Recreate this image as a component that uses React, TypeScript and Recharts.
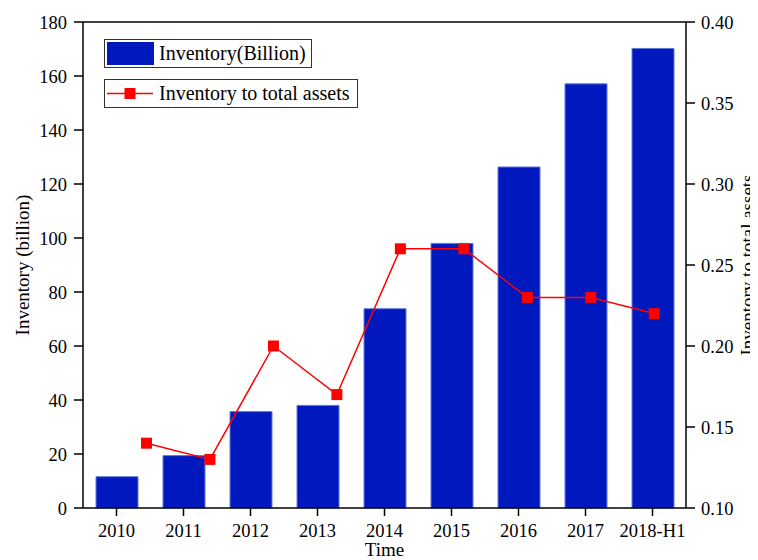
import React from 'react';
import { ComposedChart, Bar, Line, XAxis, YAxis, Legend, ReferenceLine } from 'recharts';

const years = ['2010', '2011', '2012', '2013', '2014', '2015', '2016', '2017', '2018-H1'];
const inventory = [11.6, 19.4, 35.7, 38.0, 73.8, 98.0, 126.3, 157.1, 170.2];
const ratio = [0.14, 0.13, 0.2, 0.17, 0.26, 0.26, 0.23, 0.23, 0.22];
const leftTicks = [0, 20, 40, 60, 80, 100, 120, 140, 160, 180];
const rightTicks = [0.1, 0.15, 0.2, 0.25, 0.3, 0.35, 0.4];

const data = years.map((year, i) => ({ year, idx: i, inventory: inventory[i], ratio: ratio[i] }));

const FONT = '"Liberation Serif", "Times New Roman", serif';
const BAR_COLOR = '#0019BF';
const LINE_COLOR = '#FF0000';

const SquareDot = (props: any) => {
  const { cx, cy, index } = props;
  if (cx == null || cy == null) return null;
  return <rect key={`dot-${index}`} x={cx - 5.5} y={cy - 5.5} width={11} height={11} fill={LINE_COLOR} />;
};

const LegendBoxes = () => (
  <div style={{ fontFamily: FONT, fontSize: 20, color: '#000', lineHeight: '27px' }}>
    <div
      style={{
        width: 206,
        height: 27,
        border: '1px solid #333',
        display: 'flex',
        alignItems: 'center',
        whiteSpace: 'nowrap',
      }}
    >
      <div style={{ width: 47, height: 23, marginLeft: 2, background: BAR_COLOR }} />
      <span style={{ marginLeft: 5 }}>Inventory(Billion)</span>
    </div>
    <div
      style={{
        width: 252,
        height: 27,
        marginTop: 11,
        border: '1px solid #333',
        display: 'flex',
        alignItems: 'center',
        whiteSpace: 'nowrap',
      }}
    >
      <svg width={50} height={27}>
        <line x1={2} y1={13.5} x2={48} y2={13.5} stroke={LINE_COLOR} strokeWidth={1.5} />
        <rect x={19.5} y={8} width={11} height={11} fill={LINE_COLOR} />
      </svg>
      <span style={{ marginLeft: 4 }}>Inventory to total assets</span>
    </div>
  </div>
);

const tickStyle = { fill: '#000', fontSize: 18.5, fontFamily: FONT };

const App: React.FC = () => {
  return (
    <div style={{ width: 750, height: 552 }}>
      <ComposedChart width={750} height={552} data={data} margin={{ top: 14, right: 0, bottom: 22, left: 0 }}>
        <XAxis
          xAxisId="cat"
          dataKey="year"
          height={30}
          tick={tickStyle}
          tickSize={8}
          tickMargin={8}
          axisLine={{ stroke: '#000', strokeWidth: 1.5 }}
          tickLine={{ stroke: '#000', strokeWidth: 1.5 }}
          label={{ value: 'Time', position: 'bottom', offset: 5, fill: '#000', fontSize: 19, fontFamily: FONT }}
        />
        <XAxis xAxisId="pt" dataKey="idx" type="number" domain={[-1, 8.5]} hide />
        <YAxis
          yAxisId="left"
          width={75}
          domain={[0, 180]}
          ticks={leftTicks}
          interval={0}
          tick={tickStyle}
          tickSize={9}
          tickMargin={7}
          axisLine={{ stroke: '#000', strokeWidth: 1.5 }}
          tickLine={{ stroke: '#000', strokeWidth: 1.5 }}
          label={{
            value: 'Inventory (billion)',
            angle: -90,
            position: 'center',
            dx: -23,
            fill: '#000',
            fontSize: 19,
            fontFamily: FONT,
          }}
        />
        <YAxis
          yAxisId="right"
          orientation="right"
          width={72}
          domain={[0.1, 0.4]}
          ticks={rightTicks}
          interval={0}
          tickFormatter={(v: number) => v.toFixed(2)}
          tick={tickStyle}
          tickSize={9}
          tickMargin={6}
          axisLine={{ stroke: '#000', strokeWidth: 1.5 }}
          tickLine={{ stroke: '#000', strokeWidth: 1.5 }}
          label={{
            value: 'Inventory to total assets',
            angle: -90,
            position: 'center',
            dx: 25,
            fill: '#000',
            fontSize: 19,
            fontFamily: FONT,
          }}
        />
        <ReferenceLine xAxisId="cat" yAxisId="left" y={180} stroke="#000" strokeWidth={1.5} />
        <Bar
          xAxisId="cat"
          yAxisId="left"
          dataKey="inventory"
          barSize={42}
          fill={BAR_COLOR}
          stroke="#6478DC"
          strokeWidth={1}
          isAnimationActive={false}
        />
        <Line
          xAxisId="pt"
          yAxisId="right"
          dataKey="ratio"
          type="linear"
          stroke={LINE_COLOR}
          strokeWidth={1.5}
          dot={SquareDot}
          activeDot={false}
          isAnimationActive={false}
        />
        <Legend
          layout="vertical"
          align="center"
          verticalAlign="middle"
          content={() => <LegendBoxes />}
          wrapperStyle={{ left: 96, top: 31, width: 'auto' }}
        />
      </ComposedChart>
    </div>
  );
};

export default App;
